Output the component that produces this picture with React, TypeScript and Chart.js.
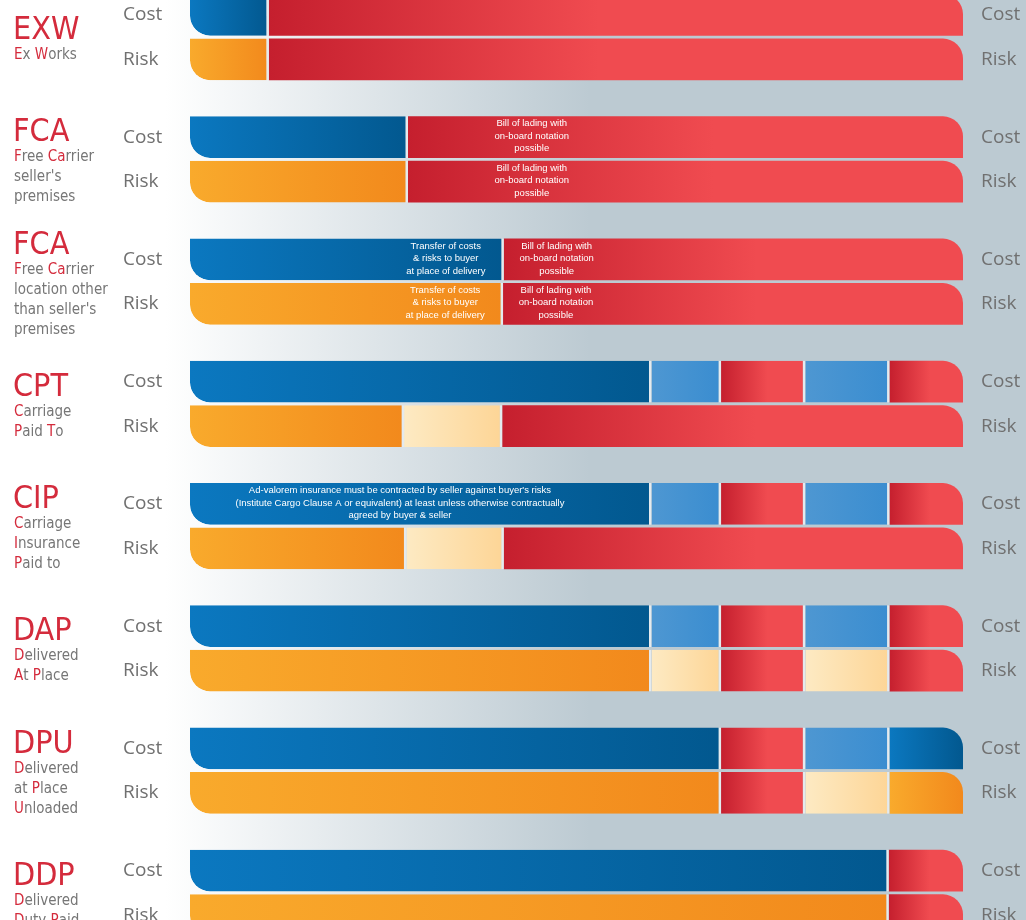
import { useEffect, useRef } from 'react';
import { Chart, registerables } from 'chart.js';

Chart.register(...registerables);

// ---------- data ----------
const terms = ['EXW', 'FCA', 'FCA', 'CPT', 'CIP', 'DAP', 'DPU', 'DDP'];
const termDescriptions: string[][] = [
  ['[E]x [W]orks'],
  ['[F]ree [Ca]rrier', "seller's", 'premises'],
  ['[F]ree [Ca]rrier', 'location other', "than seller's", 'premises'],
  ['[C]arriage', '[P]aid [T]o'],
  ['[C]arriage', '[I]nsurance', '[P]aid to'],
  ['[D]elivered', '[A]t [P]lace'],
  ['[D]elivered', 'at [P]lace', '[U]nloaded'],
  ['[D]elivered', '[D]uty [P]aid'],
];
const barKinds = ['Cost', 'Risk'];

// share of the journey (percent) of each segment, left to right
const costSegments: number[][] = [
  [10.2, 89.8],
  [28.2, 71.8],
  [40.6, 59.4],
  [59.7, 9.0, 10.9, 10.9, 9.5],
  [59.7, 9.0, 10.9, 10.9, 9.5],
  [59.7, 9.0, 10.9, 10.9, 9.5],
  [68.7, 10.9, 10.9, 9.5],
  [90.4, 9.6],
];
const costParties: string[][] = [
  ['seller', 'buyer'],
  ['seller', 'buyer'],
  ['seller', 'buyer'],
  ['seller', 'shared', 'buyer', 'shared', 'buyer'],
  ['seller', 'shared', 'buyer', 'shared', 'buyer'],
  ['seller', 'shared', 'buyer', 'shared', 'buyer'],
  ['seller', 'buyer', 'shared', 'seller'],
  ['seller', 'buyer'],
];
const riskSegments: number[][] = [
  [10.2, 89.8],
  [28.2, 71.8],
  [40.5, 59.5],
  [27.7, 12.7, 59.6],
  [28.0, 12.6, 59.4],
  [59.7, 9.0, 10.9, 10.9, 9.5],
  [68.7, 10.9, 10.9, 9.5],
  [90.4, 9.6],
];
const riskParties: string[][] = [
  ['seller', 'buyer'],
  ['seller', 'buyer'],
  ['seller', 'buyer'],
  ['seller', 'shared', 'buyer'],
  ['seller', 'shared', 'buyer'],
  ['seller', 'shared', 'buyer', 'shared', 'buyer'],
  ['seller', 'buyer', 'shared', 'seller'],
  ['seller', 'buyer'],
];

const billOfLading = ['Bill of lading with', 'on-board notation', 'possible'];
const transferNote = ['Transfer of costs', '& risks to buyer', 'at place of delivery'];
const insuranceNote = [
  "Ad-valorem insurance must be contracted by seller against buyer's risks",
  '(Institute Cargo Clause A or equivalent) at least unless otherwise contractually',
  'agreed by buyer & seller',
];
const segmentNotes = [
  { term: 1, bar: 'Cost', segment: 1, lines: billOfLading, anchor: 0.223 },
  { term: 1, bar: 'Risk', segment: 1, lines: billOfLading, anchor: 0.223 },
  { term: 2, bar: 'Cost', segment: 0, lines: transferNote, anchor: 0.815 },
  { term: 2, bar: 'Risk', segment: 0, lines: transferNote, anchor: 0.815 },
  { term: 2, bar: 'Cost', segment: 1, lines: billOfLading, anchor: 0.115 },
  { term: 2, bar: 'Risk', segment: 1, lines: billOfLading, anchor: 0.115 },
  { term: 4, bar: 'Cost', segment: 0, lines: insuranceNote, anchor: 0.455 },
];

// ---------- styles ----------
const palette: Record<string, Record<string, [string, string]>> = {
  Cost: {
    seller: ['#0b78c0', '#02588f'],
    buyer: ['#c51f2e', '#f04b50'],
    shared: ['#4e97d2', '#3a8dd0'],
  },
  Risk: {
    seller: ['#f9aa2c', '#f2891c'],
    buyer: ['#c51f2e', '#f04b50'],
    shared: ['#fdeac3', '#fdd596'],
  },
};
const MAX_SEGMENTS = 5;
const RADIUS = 20;
const NARROW = '"Liberation Sans Narrow", "DejaVu Sans Condensed", "Open Sans", sans-serif';
const TERM_RED = '#d42b3c';
const GREY = '#767676';

const segsFor = (bar: string) => (bar === 'Cost' ? costSegments : riskSegments);
const partiesFor = (bar: string) => (bar === 'Cost' ? costParties : riskParties);

function fillFor(c: any, bar: string, k: number) {
  if (c.type !== 'data') return '#888';
  const i = c.dataIndex;
  const segs = segsFor(bar)[i];
  const party = partiesFor(bar)[i]?.[k];
  if (!segs || !party) return 'rgba(0,0,0,0)';
  const cols = palette[bar][party];
  const xs = c.chart.scales?.x;
  if (!xs || !c.chart.chartArea) return cols[1];
  let start = 0;
  for (let j = 0; j < k; j++) start += segs[j];
  const x0 = xs.getPixelForValue(start);
  const x1 = xs.getPixelForValue(start + segs[k]);
  let len = x1 - x0;
  if (party === 'buyer') len = Math.min(len * 0.55, 330);
  const g = c.chart.ctx.createLinearGradient(x0, 0, x0 + Math.max(len, 1), 0);
  g.addColorStop(0, cols[0]);
  g.addColorStop(1, cols[1]);
  return g;
}

function drawRich(ctx: CanvasRenderingContext2D, text: string, x: number, y: number) {
  const parts = text.split(/(\[[^\]]+\])/).filter((p) => p.length);
  let cx = x;
  for (const p of parts) {
    const red = p.startsWith('[');
    const s = red ? p.slice(1, -1) : p;
    ctx.fillStyle = red ? TERM_RED : GREY;
    ctx.fillText(s, cx, y);
    cx += ctx.measureText(s).width;
  }
}

const labelsPlugin = {
  id: 'incotermLabels',
  afterDatasetsDraw(chart: any) {
    const ctx: CanvasRenderingContext2D = chart.ctx;
    const costMeta = chart.getDatasetMeta(0);
    const riskMeta = chart.getDatasetMeta(MAX_SEGMENTS);
    ctx.save();
    terms.forEach((term, i) => {
      const cy = costMeta.data[i].y;
      const ry = riskMeta.data[i].y;
      const center = (cy + ry) / 2 + 1.5;
      const n = termDescriptions[i].length;
      const blockH = 29 + 20 * n;
      const nameBase = center - blockH / 2 + 25;
      ctx.textAlign = 'left';
      ctx.textBaseline = 'alphabetic';
      ctx.font = `32px ${NARROW}`;
      ctx.fillStyle = TERM_RED;
      ctx.fillText(term, 13, nameBase);
      ctx.font = `15px ${NARROW}`;
      termDescriptions[i].forEach((line, l) => {
        drawRich(ctx, line, 14, nameBase + 20 + 20 * l);
      });
      // Cost / Risk labels both sides
      ctx.font = '19px "Open Sans", sans-serif';
      ctx.fillStyle = '#707070';
      ctx.textBaseline = 'middle';
      [cy, ry].forEach((yy, b) => {
        ctx.fillText(barKinds[b], 123, yy);
        ctx.fillText(barKinds[b], 981, yy);
      });
    });
    // notes inside segments
    ctx.font = `9.5px "Liberation Sans", "Open Sans", sans-serif`;
    ctx.fillStyle = '#ffffff';
    ctx.textAlign = 'center';
    ctx.textBaseline = 'middle';
    segmentNotes.forEach((note) => {
      const ds = (note.bar === 'Cost' ? 0 : MAX_SEGMENTS) + note.segment;
      const el = chart.getDatasetMeta(ds).data[note.term];
      if (!el) return;
      const { x, base, y } = el.getProps(['x', 'base', 'y'], true);
      const left = Math.min(x, base);
      const w = Math.abs(x - base);
      const tx = left + w * note.anchor;
      const lh = 12.5;
      const y0 = y - ((note.lines.length - 1) * lh) / 2 - 1;
      note.lines.forEach((line, l) => ctx.fillText(line, tx, y0 + l * lh));
    });
    ctx.restore();
  },
};

function buildDatasets() {
  const out: any[] = [];
  barKinds.forEach((bar) => {
    for (let k = 0; k < MAX_SEGMENTS; k++) {
      out.push({
        label: `${bar} ${k + 1}`,
        stack: bar,
        data: terms.map((_, i) => {
          const v = segsFor(bar)[i][k];
          return v === undefined ? null : v;
        }),
        backgroundColor: (c: any) => fillFor(c, bar, k),
        borderColor: '#e4eaee',
        borderWidth: (c: any) => {
          const segs = segsFor(bar)[c.dataIndex];
          const last = !segs || k === segs.length - 1;
          return { left: 0, top: 0, bottom: 0, right: last ? 0 : 2.5 };
        },
        borderRadius: (c: any) => {
          const segs = segsFor(bar)[c.dataIndex];
          const last = !!segs && k === segs.length - 1;
          return { topLeft: 0, bottomRight: 0, bottomLeft: k === 0 ? RADIUS : 0, topRight: last ? RADIUS : 0 };
        },
        borderSkipped: false,
        categoryPercentage: 0.728,
        barPercentage: 0.933,
      });
    }
  });
  return out;
}

export default function App() {
  const ref = useRef<HTMLCanvasElement | null>(null);
  useEffect(() => {
    if (!ref.current) return;
    const chart = new Chart(ref.current, {
      type: 'bar',
      data: { labels: terms.map((t, i) => `${t} ${i}`), datasets: buildDatasets() },
      options: {
        indexAxis: 'y',
        animation: false,
        responsive: false,
        maintainAspectRatio: false,
        layout: { padding: { left: 190, right: 63, top: 0, bottom: 0 } },
        plugins: { legend: { display: false }, tooltip: { enabled: false }, title: { display: false } },
        scales: {
          x: { type: 'linear', min: 0, max: 100, stacked: true, display: false },
          y: { type: 'category', stacked: true, display: false },
        },
      },
      plugins: [labelsPlugin],
    });
    return () => chart.destroy();
  }, []);
  return (
    <div
      style={{
        position: 'fixed',
        left: 0,
        top: 0,
        width: 1026,
        height: 920,
        overflow: 'hidden',
        background: 'linear-gradient(to right, #ffffff 0px, #ffffff 165px, #bccad2 590px, #bccad2 1026px)',
      }}
    >
      <canvas
        ref={ref}
        width={1026}
        height={978}
        style={{ position: 'absolute', left: 0, top: -24, width: 1026, height: 978 }}
      />
    </div>
  );
}
